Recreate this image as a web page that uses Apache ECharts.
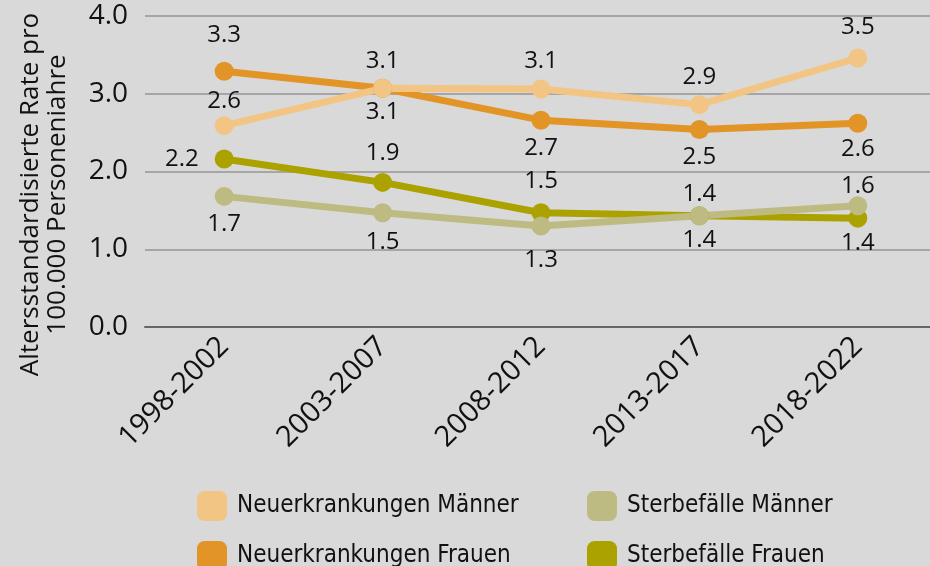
<!DOCTYPE html>
<html>
<head>
<meta charset="utf-8">
<script src="https://cdn.jsdelivr.net/npm/echarts@6/dist/echarts.min.js"></script>
<style>
  html, body { margin: 0; padding: 0; background: #D9D9D9; }
  #main { width: 930px; height: 566px; }
</style>
</head>
<body>
<div id="main"></div>
<script>
const categories = ['1998-2002', '2003-2007', '2008-2012', '2013-2017', '2018-2022'];
const yTicks = [0, 1, 2, 3, 4];

const neuMaenner = [2.59, 3.07, 3.06, 2.86, 3.46];
const neuFrauen = [3.29, 3.07, 2.66, 2.54, 2.62];
const sterbMaenner = [1.68, 1.47, 1.30, 1.43, 1.56];
const sterbFrauen = [2.16, 1.86, 1.47, 1.43, 1.40];

const seriesNames = ['Neuerkrankungen Männer', 'Neuerkrankungen Frauen', 'Sterbefälle Männer', 'Sterbefälle Frauen'];
const colors = {
  'Neuerkrankungen Männer': '#F2C584',
  'Neuerkrankungen Frauen': '#E29426',
  'Sterbefälle Männer': '#BDBB82',
  'Sterbefälle Frauen': '#ABA200'
};

// where each point's value label sits, and how far from the marker
const labelPlaces = {
  'Neuerkrankungen Männer': ['top', 'top', 'top', 'top', 'top'],
  'Neuerkrankungen Frauen': ['top', 'bottom', 'bottom', 'bottom', 'bottom'],
  'Sterbefälle Männer': ['bottom', 'bottom', 'bottom', 'top', 'top'],
  'Sterbefälle Frauen': ['left', 'top', 'top', 'bottom', 'bottom']
};
const labelGaps = {
  'Neuerkrankungen Männer': [3, 6, 6, 6, 9],
  'Neuerkrankungen Frauen': [15, 2, 6, 6, 4],
  'Sterbefälle Männer': [6, 8, 13, 0, -2],
  'Sterbefälle Frauen': [16, 8, 10, 3, 4]
};

const numFont = "'Open Sans', sans-serif";
const legendFont = "'Liberation Sans Narrow', 'DejaVu Sans Condensed', 'Open Sans', sans-serif";

function makeSeries(name, values) {
  return {
    name: name,
    type: 'line',
    data: values.map((v, i) => ({
      value: v,
      label: {position: labelPlaces[name][i], distance: labelGaps[name][i]}
    })),
    symbol: 'circle',
    symbolSize: 19,
    lineStyle: {width: 7, color: colors[name]},
    itemStyle: {color: colors[name]},
    label: {
      show: true,
      color: '#111',
      fontSize: 24,
      fontFamily: numFont,
      formatter: p => p.value.toFixed(1)
    },
    emphasis: {disabled: true},
    animation: false
  };
}

// one legend per entry, laid out as two columns
const legendSpots = [[192, 486], [192, 536], [582, 486], [582, 536]];
const legends = seriesNames.map((name, i) => ({
  data: [name],
  left: legendSpots[i][0], top: legendSpots[i][1],
  icon: 'roundRect', itemWidth: 30, itemHeight: 30,
  textStyle: {fontSize: 24, color: '#111', fontFamily: legendFont, padding: [0, 0, 0, 5]}
}));

const chart = echarts.init(document.getElementById('main'));
chart.setOption({
  backgroundColor: '#D9D9D9',
  animation: false,
  grid: {left: 145, right: -7, top: 16, bottom: 239, containLabel: false, outerBoundsMode: 'none'},
  legend: legends,
  xAxis: [
    {
      type: 'category',
      data: categories,
      position: 'bottom',
      axisLine: {lineStyle: {color: '#666', width: 2}},
      axisTick: {length: 16, lineStyle: {color: '#666', width: 2}},
      axisLabel: {rotate: 45, margin: 15, fontSize: 29, color: '#111', fontFamily: numFont}
    },
    {
      type: 'category',
      data: categories,
      position: 'bottom',
      axisLine: {show: false},
      axisTick: {inside: true, length: 10, lineStyle: {color: '#666', width: 2}},
      axisLabel: {show: false}
    }
  ],
  yAxis: {
    type: 'value',
    min: yTicks[0],
    max: yTicks[yTicks.length - 1],
    interval: 1,
    axisLine: {show: false},
    axisTick: {show: false},
    splitLine: {lineStyle: {color: '#A6A6A6', width: 2}},
    axisLabel: {margin: 17, fontSize: 28, color: '#111', fontFamily: numFont, formatter: v => v.toFixed(1)},
    name: 'Altersstandardisierte Rate pro\n100.000 Personeniahre',
    nameLocation: 'middle',
    nameGap: 74,
    nameTextStyle: {fontSize: 26, color: '#111', fontFamily: numFont, lineHeight: 27, padding: [0, 46, 0, 0]}
  },
  series: [
    makeSeries(seriesNames[1], neuFrauen),
    makeSeries(seriesNames[0], neuMaenner),
    makeSeries(seriesNames[3], sterbFrauen),
    makeSeries(seriesNames[2], sterbMaenner)
  ]
});
</script>
</body>
</html>
